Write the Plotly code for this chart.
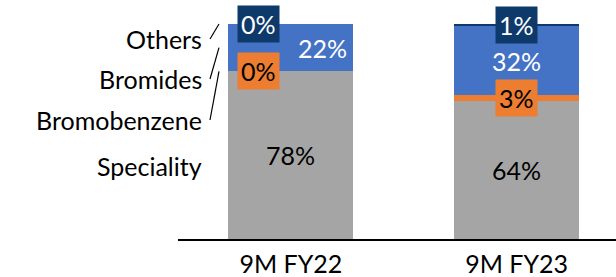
import plotly.graph_objects as go

categories = ["9M FY22", "9M FY23"]
series_names = ["Speciality", "Bromobenzene", "Bromides", "Others"]
speciality = [78, 64]
bromobenzene = [0, 3]
bromides = [22, 32]
others = [0, 1]
colors = ["#A5A5A5", "#ED7D31", "#4472C4", "#0D3A6B"]

W, H = 616, 277
ML, MR, MT, MB = 178, 0, 10, 38
YMAX = 106.5
FONT = "Lato"
FS = 25

def px_x(px):
    return (px - ML) / (W - ML - MR)

def px_y(py):
    return (H - MB - py) / (H - MT - MB)

fig = go.Figure()
values = [speciality, bromobenzene, bromides, others]
xs = list(range(len(categories)))
for name, vals, col in zip(series_names, values, colors):
    fig.add_trace(go.Bar(x=xs, y=vals, name=name, marker=dict(color=col, line=dict(width=0)),
                         width=0.553, hoverinfo="skip"))

for i in xs:
    s, bb, br, ot = speciality[i], bromobenzene[i], bromides[i], others[i]
    boxshift = -32 if i == 0 else 0
    blueshift = 32 if i == 0 else 0
    fig.add_annotation(x=i, y=s / 2, xref="x", yref="y", text=f"{s}%", showarrow=False,
                       font=dict(family=FONT, size=FS, color="black"))
    fig.add_annotation(x=i, y=s + bb / 2, xref="x", yref="y", text=f"{bb}%", showarrow=False,
                       xshift=boxshift, bgcolor=colors[1], borderpad=3,
                       font=dict(family=FONT, size=FS, color="black"))
    fig.add_annotation(x=i, y=s + bb + br / 2, xref="x", yref="y", text=f"{br}%", showarrow=False,
                       xshift=blueshift, font=dict(family=FONT, size=FS, color="white"))
    fig.add_annotation(x=i, y=s + bb + br + ot / 2, xref="x", yref="y", text=f"{ot}%", showarrow=False,
                       xshift=boxshift, bgcolor=colors[3], borderpad=3,
                       font=dict(family=FONT, size=FS, color="white"))

label_py = {"Others": 39, "Bromides": 79, "Bromobenzene": 120, "Speciality": 166}
for name in series_names:
    fig.add_annotation(x=px_x(204), y=px_y(label_py[name]), xref="paper", yref="paper",
                       text=name, showarrow=False, xanchor="right", yanchor="middle",
                       font=dict(family=FONT, size=FS, color="black"))

leader_targets = {
    "Others": speciality[0] + bromobenzene[0] + bromides[0] + others[0],
    "Bromides": speciality[0] + bromobenzene[0] + bromides[0] / 2,
    "Bromobenzene": speciality[0] + bromobenzene[0],
}
for name, yt in leader_targets.items():
    fig.add_shape(type="line", xref="paper", yref="paper",
                  x0=px_x(210), y0=px_y(label_py[name]), x1=px_x(219), y1=yt / YMAX,
                  line=dict(color="black", width=1.2))

fig.update_layout(
    width=W, height=H, barmode="stack", showlegend=False,
    margin=dict(l=ML, r=MR, t=MT, b=MB),
    plot_bgcolor="white", paper_bgcolor="white",
    bargap=0,
)
fig.update_xaxes(range=[-0.5, 1.44], tickvals=xs, ticktext=categories, showgrid=False,
                 zeroline=False, showline=True, linecolor="black", linewidth=2,
                 ticks="", tickfont=dict(family=FONT, size=FS, color="black"),
                 ticklabelstandoff=2)
fig.update_yaxes(range=[0, YMAX], visible=False, showgrid=False, zeroline=False)

fig.write_html("out.html", config={"displayModeBar": False},
               post_script="document.body.style.margin='0';document.body.style.overflow='hidden';")
